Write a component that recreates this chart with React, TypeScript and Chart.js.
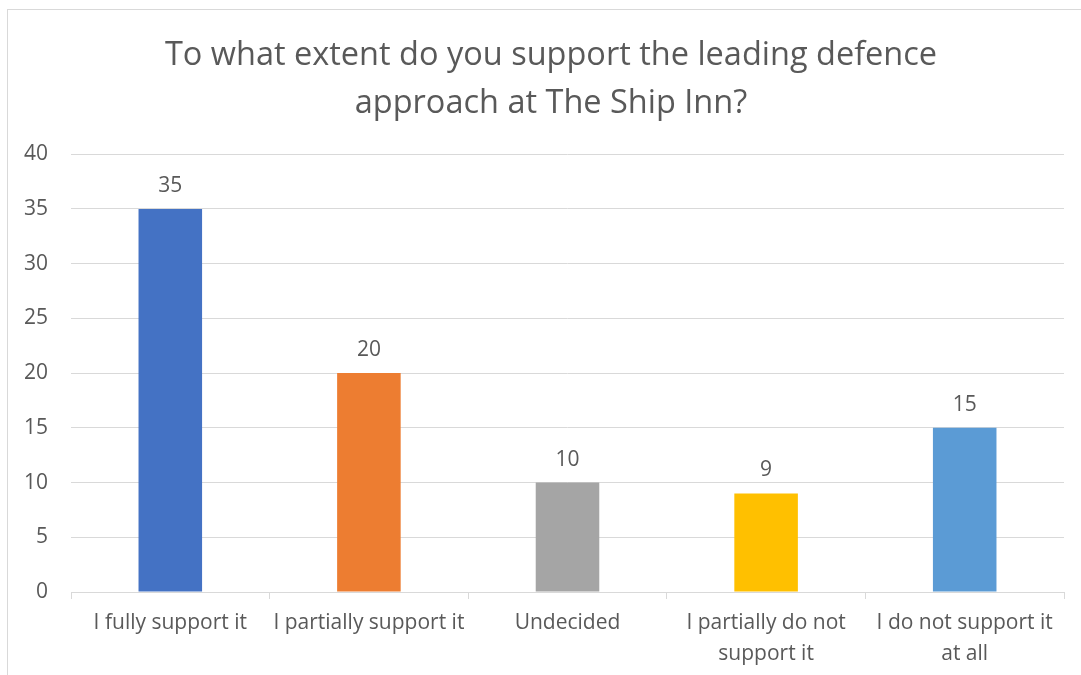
import React, { useEffect, useRef } from "react";
import { Chart, registerables } from "chart.js";

Chart.register(...registerables);

const titleLines = ["To what extent do you support the leading defence", "approach at The Ship Inn?"];
const categories: (string | string[])[] = [
  "I fully support it",
  "I partially support it",
  "Undecided",
  ["I partially do not", "support it"],
  ["I do not support it", "at all"],
];
const values = [35, 20, 10, 9, 15];
const barColors = ["#4472C4", "#ED7D31", "#A5A5A5", "#FFC000", "#5B9BD5"];
const yMin = 0;
const yMax = 40;
const yStep = 5;

const FONT = "'Open Sans', Lato, sans-serif";
const TEXT = "#595959";
const GRID = "#d9d9d9";

const framePlugin = {
  id: "frame",
  beforeDraw(chart: any) {
    const ctx = chart.ctx;
    ctx.save();
    ctx.fillStyle = "#ffffff";
    ctx.fillRect(0, 0, chart.width, chart.height);
    ctx.strokeStyle = GRID;
    ctx.lineWidth = 1;
    ctx.strokeRect(7.5, 9.5, chart.width + 20, chart.height + 20);
    ctx.restore();
  },
  afterDraw(chart: any) {
    // visible title, centred on the (wider) chart frame
    const ctx = chart.ctx;
    ctx.save();
    ctx.fillStyle = TEXT;
    ctx.font = `32.5px ${FONT}`;
    ctx.textAlign = "center";
    ctx.textBaseline = "alphabetic";
    titleLines.forEach((line, i) => {
      ctx.fillText(line, 551, 65 + i * 48);
    });
    ctx.restore();
  },
};

const labelPlugin = {
  id: "barLabels",
  afterDatasetsDraw(chart: any) {
    const ctx = chart.ctx;
    const meta = chart.getDatasetMeta(0);
    ctx.save();
    ctx.fillStyle = TEXT;
    ctx.font = `21px ${FONT}`;
    ctx.textAlign = "center";
    ctx.textBaseline = "middle";
    meta.data.forEach((bar: any, i: number) => {
      ctx.fillText(String(values[i]), bar.x, bar.y - 23);
    });
    ctx.restore();
  },
};

export default function App() {
  const ref = useRef<HTMLCanvasElement>(null);
  useEffect(() => {
    document.documentElement.style.overflow = "hidden";
    document.body.style.margin = "0";
    const chart = new Chart(ref.current!, {
      type: "bar",
      data: {
        labels: categories,
        datasets: [
          {
            data: values,
            backgroundColor: barColors,
            barPercentage: 0.32,
            categoryPercentage: 1,
          },
        ],
      },
      plugins: [framePlugin, labelPlugin],
      options: {
        animation: false,
        responsive: false,
        maintainAspectRatio: false,
        layout: { padding: { left: 0, right: 17, top: 0, bottom: 0 } },
        plugins: {
          legend: { display: false },
          tooltip: { enabled: false },
          title: {
            display: true,
            text: titleLines,
            color: "rgba(0,0,0,0)",
            font: { family: FONT, size: 32.5, weight: "normal", lineHeight: 1.48 },
            padding: { top: 28, bottom: 30 },
          },
        },
        scales: {
          x: {
            grid: {
              display: true,
              drawOnChartArea: false,
              drawTicks: true,
              tickLength: 7,
              color: GRID,
              offset: true,
            },
            border: { display: true, color: GRID, width: 1 },
            ticks: {
              color: TEXT,
              font: { family: FONT, size: 21, lineHeight: 1.48 },
              padding: 8,
              maxRotation: 0,
              autoSkip: false,
            },
            afterFit(scale: any) {
              scale.height = 83;
            },
          },
          y: {
            min: yMin,
            max: yMax,
            ticks: {
              stepSize: yStep,
              color: TEXT,
              font: { family: FONT, size: 21 },
              padding: 23,
            },
            grid: { color: GRID, drawTicks: false },
            border: { display: false },
            afterFit(scale: any) {
              scale.width = 71;
            },
          },
        },
      },
    } as any);
    return () => chart.destroy();
  }, []);
  return (
    <div style={{ position: "fixed", left: 0, top: 0, width: 1081, height: 675 }}>
      <canvas ref={ref} width={1081} height={675} style={{ width: 1081, height: 675 }} />
    </div>
  );
}
